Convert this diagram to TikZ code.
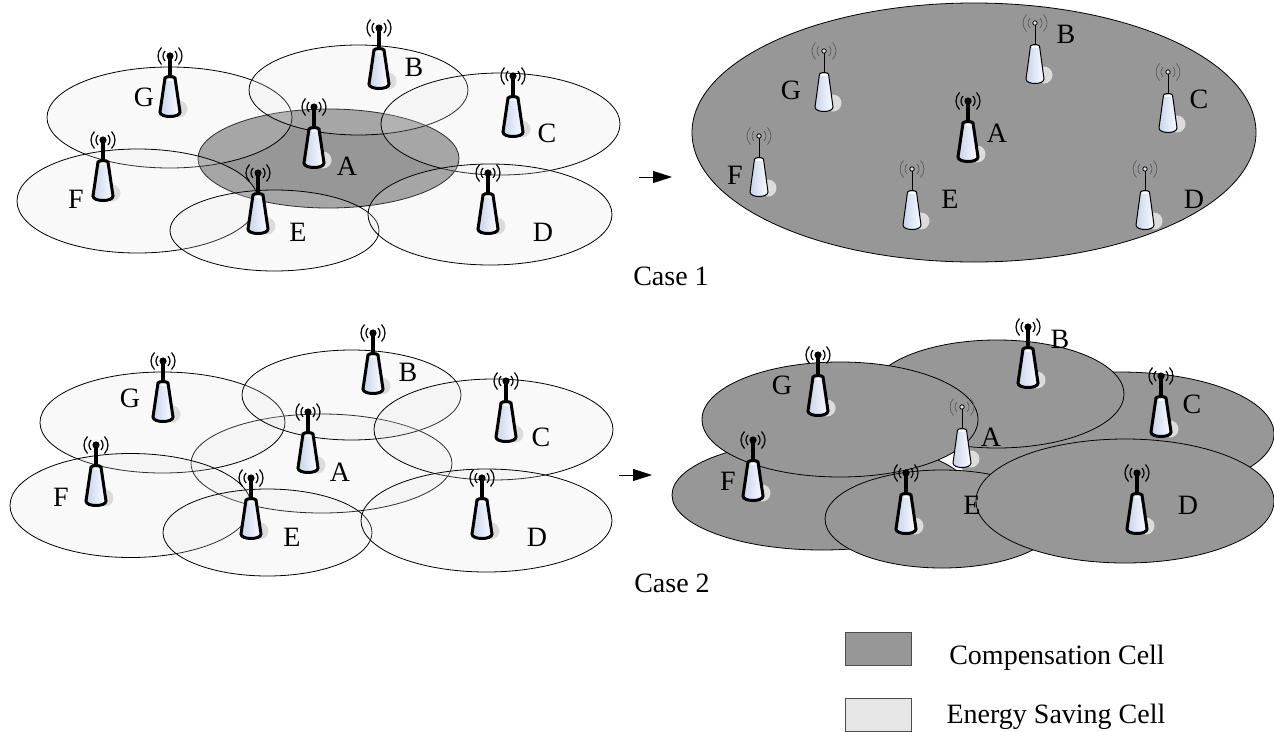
\documentclass[tikz,border=0pt]{standalone}
\usepackage{fontspec}
\setmainfont{Liberation Serif}
\usetikzlibrary{arrows.meta}
\definecolor{darkcell}{HTML}{979797}
\definecolor{savecell}{HTML}{E2E2E2}
\definecolor{legendlight}{HTML}{E6E6E6}
\definecolor{towerblue}{HTML}{C4D3EC}
\definecolor{towershadow}{HTML}{DCDCDC}
\tikzset{
  savingcell/.style={draw=black,line width=0.8pt,fill=savecell,fill opacity=0.2},
  activecell/.style={draw=black,line width=0.8pt,fill=darkcell},
  lab/.style={font=\fontsize{28}{28}\selectfont,inner sep=0pt,text=black},
  legendbox/.style={draw=black!70,line width=0.8pt},
  flow/.style={draw=black,line width=0.8pt,-{Triangle[length=19pt,width=12pt]}}
}
% bold tower, base at #1
\newcommand{\towerbold}[2]{%
 \begin{scope}[shift={(#1,#2)}]
  \fill[towershadow] (9,-9) circle (8.5);
  \draw[line width=3.5pt,black] (0,-61) -- (0,-38);
  \draw[line width=3pt,black,left color=towerblue,right color=white!90!towerblue,middle color=towerblue!50]
    (-5,-40) .. controls (-3.5,-42) and (3.5,-42) .. (5,-40) -- (10,-6)
    .. controls (10,0) and (-10,0) .. (-10,-6) -- cycle;
  \fill[white] (-2,-39) rectangle (2,-37);
  \begin{scope}[shift={(0,-62)}]
   \fill (0,0) circle (3.6);
   \foreach \r in {7,12} {
    \draw[line width=1.2pt] (135:\r) arc[start angle=135,end angle=225,radius=\r];
    \draw[line width=1.2pt] (45:\r) arc[start angle=45,end angle=-45,radius=\r];
   }
  \end{scope}
 \end{scope}}
% light tower
\newcommand{\towerlight}[2]{%
 \begin{scope}[shift={(#1,#2)}]
  \fill[towershadow] (9,-9) circle (8.5);
  \draw[line width=1pt,black] (0,-59) -- (0,-38);
  \draw[line width=1pt,black,left color=towerblue,right color=white!90!towerblue,middle color=towerblue!50]
    (-4.5,-38) .. controls (-3,-40) and (3,-40) .. (4.5,-38) -- (9,-5)
    .. controls (9,1) and (-9,1) .. (-9,-5) -- cycle;
  \fill[white] (-3,-38) rectangle (3,-36);
  \begin{scope}[shift={(0,-61)}]
   \draw[line width=0.8pt,fill=towerblue!60] (0,0) circle (2.2);
   \foreach \r in {7,12} {
    \draw[line width=0.7pt,black!65] (135:\r) arc[start angle=135,end angle=225,radius=\r];
    \draw[line width=0.7pt,black!65] (45:\r) arc[start angle=45,end angle=-45,radius=\r];
   }
  \end{scope}
 \end{scope}}
\begin{document}
\begin{tikzpicture}[x=1pt,y=-1pt]
\useasboundingbox (0,0) rectangle (1274,731);
% ---- Case 1, left
\draw[activecell] (328.5,158.5) ellipse [x radius=130.5,y radius=49.5];
\draw[savingcell] (169.5,117.5) ellipse [x radius=122.5,y radius=50.5];
\draw[savingcell] (358.5,90) ellipse [x radius=109.5,y radius=45];
\draw[savingcell] (500.5,124) ellipse [x radius=119.5,y radius=51];
\draw[savingcell] (137.5,201) ellipse [x radius=120.5,y radius=52];
\draw[savingcell] (274.5,230.5) ellipse [x radius=104.5,y radius=40.5];
\draw[savingcell] (490,214.5) ellipse [x radius=122,y radius=50.5];
\towerbold{170}{118}\towerbold{379}{90}\towerbold{513}{138}\towerbold{314}{169}
\towerbold{258}{235}\towerbold{103}{202}\towerbold{488}{235}
\node[lab] (g1) at (144,97) {G};
\node[lab] (b1) at (414,67) {B};
\node[lab] (c1) at (547,133) {C};
\node[lab] (a1) at (347,166) {A};
\node[lab] (f1) at (76,199) {F};
\node[lab] (e1) at (298,232) {E};
\node[lab] (d1) at (543,232) {D};
% ---- Case 1, right
\draw[activecell] (974,132.5) ellipse [x radius=282,y radius=129.5];
\towerlight{824}{112}\towerlight{1035}{84}\towerlight{1168}{133}
\towerbold{968}{163}
\towerlight{759}{197}\towerlight{912}{230}\towerlight{1145}{230}
\node[lab] (g2) at (791,90) {G};
\node[lab] (b2) at (1066,34) {B};
\node[lab] (c2) at (1199,99) {C};
\node[lab] (a2) at (997,133) {A};
\node[lab] (f2) at (735,175) {F};
\node[lab] (e2) at (950,199) {E};
\node[lab] (d2) at (1194,199) {D};
% arrows
\coordinate (s1) at (639,177); \coordinate (t1) at (672,177);
\coordinate (s2) at (619,475); \coordinate (t2) at (652,475);
\draw[flow] (s1) -- (t1);
\draw[flow] (s2) -- (t2);
\node[lab] (case1) at (671,276) {Case 1};
% ---- Case 2, left
\draw[savingcell] (321.5,463.5) ellipse [x radius=130.5,y radius=49.5];
\draw[savingcell] (162.5,422.5) ellipse [x radius=122.5,y radius=50.5];
\draw[savingcell] (351.5,395) ellipse [x radius=109.5,y radius=45];
\draw[savingcell] (493.5,429.5) ellipse [x radius=119.5,y radius=50.5];
\draw[savingcell] (130.5,505.5) ellipse [x radius=120.5,y radius=52];
\draw[savingcell] (267.5,532.5) ellipse [x radius=104.5,y radius=43.5];
\draw[savingcell] (486.5,520.5) ellipse [x radius=125.5,y radius=51.5];
\towerbold{163}{423}\towerbold{373}{395}\towerbold{506}{443}\towerbold{308}{474}
\towerbold{251}{540}\towerbold{96}{507}\towerbold{482}{540}
\node[lab] (g3) at (130,398) {G};
\node[lab] (b3) at (408,372) {B};
\node[lab] (c3) at (541,437) {C};
\node[lab] (a3) at (340,472) {A};
\node[lab] (f3) at (61,497) {F};
\node[lab] (e3) at (292,537) {E};
\node[lab] (d3) at (537,537) {D};
% ---- Case 2, right
\draw[activecell] (822,495) ellipse [x radius=150,y radius=55];
\draw[activecell] (1120,434) ellipse [x radius=154,y radius=62];
\fill[darkcell] (992,460) ellipse [x radius=33,y radius=22];
\draw[activecell] (997,394) ellipse [x radius=127,y radius=54];
\draw[activecell] (840,419.5) ellipse [x radius=138,y radius=57.5];
\towerlight{962}{468}
\draw[activecell] (942,519) ellipse [x radius=117,y radius=49];
\draw[activecell] (1125,501) ellipse [x radius=149,y radius=62];
\towerbold{818}{417}\towerbold{1028}{389}\towerbold{1161}{438}
\towerbold{753}{502}\towerbold{906}{535}\towerbold{1137}{535}
\node[lab] (g4) at (782,385) {G};
\node[lab] (b4) at (1060,339) {B};
\node[lab] (c4) at (1192,404) {C};
\node[lab] (a4) at (991,437) {A};
\node[lab] (f4) at (728,481) {F};
\node[lab] (e4) at (972,505) {E};
\node[lab] (d4) at (1188,505) {D};
\node[lab] (case2) at (672,583) {Case 2};
% legend
\node[legendbox,fill=darkcell,minimum width=66pt,minimum height=33pt,inner sep=0pt] (lg1) at (878,648.5) {};
\node[legendbox,fill=legendlight,minimum width=66pt,minimum height=33pt,inner sep=0pt] (lg2) at (878,714.5) {};
\node[lab] (lt1) at (1057,658) {Compensation Cell};
\node[lab] (lt2) at (1056,717) {Energy Saving Cell};
\end{tikzpicture}
\end{document}
